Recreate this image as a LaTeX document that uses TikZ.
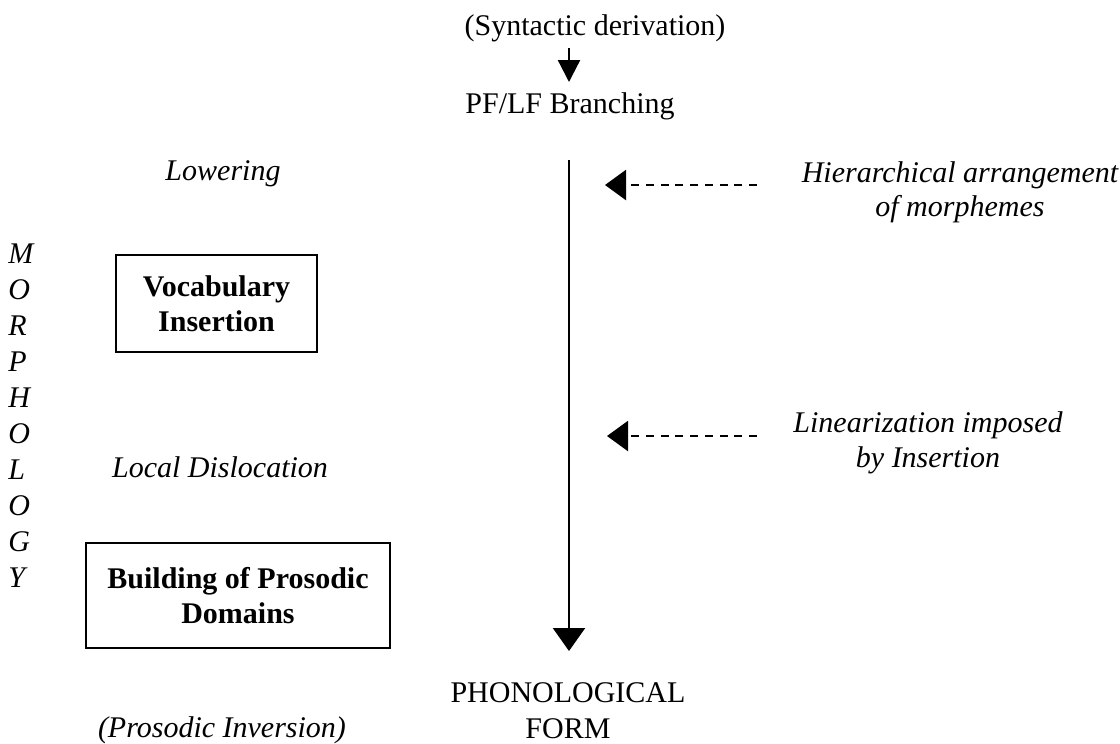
\documentclass[tikz,border=0pt]{standalone}
\usepackage{fontspec}
\setmainfont{Liberation Serif}
\usetikzlibrary{arrows.meta}
\begin{document}
\begin{tikzpicture}[x=0.4pt,y=-0.4pt,
  txt/.style={inner sep=0pt, align=center, font=\fontsize{12}{14.4}\selectfont},
  it/.style={inner sep=0pt, align=center, font=\fontsize{12}{14}\selectfont\itshape},
  box/.style={draw, line width=0.8pt, inner sep=0pt, align=center, font=\fontsize{12}{14}\selectfont\bfseries},
  solidarrow/.style={line width=0.9pt},
  dasharrow/.style={line width=0.9pt, dash pattern=on 3.2pt off 2.7pt, -{Triangle[width=12pt,length=8.4pt]}}]
\useasboundingbox (0,0) rectangle (1120,743);

% centre column
\node[txt, anchor=base] (deriv) at (595,35) {(Syntactic derivation)};
\node[txt, anchor=base] (branch) at (570,113) {PF/LF Branching};
\node[txt, anchor=base] (pf) at (568,738) {PHONOLOGICAL\\FORM};

% vertical label (anchor = baseline of last line)
\node[it, anchor=base west, align=left, font=\fontsize{12}{14.4}\selectfont\itshape] (morph) at (8,587) {M\\O\\R\\P\\H\\O\\L\\O\\G\\Y};

% left column
\node[it, anchor=base] (lower) at (223,180) {Lowering};
\node[it, anchor=base] (ld) at (220,477) {Local Dislocation};
\node[it, anchor=base] (pi) at (222,737) {(Prosodic Inversion)};
\node[box, minimum width=80.4pt, minimum height=38.8pt] (vi) at (216.5,303.5) {Vocabulary\\Insertion};
\node[box, minimum width=121.6pt, minimum height=42pt] (bpd) at (238,595.5) {Building of Prosodic\\Domains};

% right column (anchor = baseline of last line)
\node[it, anchor=base, font=\fontsize{12}{13.6}\selectfont\itshape] (hier) at (960,216) {Hierarchical arrangement\\of morphemes};
\node[it, anchor=base] (lin) at (928,467) {Linearization imposed\\by Insertion};

% connectors
\coordinate (s1) at (569,48);
\coordinate (e1) at (569,82);
\draw[solidarrow, -{Triangle[width=8.8pt,length=8.8pt]}] (s1) -- (e1);

\coordinate (mt) at (569,160);
\coordinate (mb) at (569,651);
\draw[solidarrow, -{Triangle[width=12.8pt,length=9.2pt]}] (mt) -- (mb);

\coordinate (d1s) at (757,185);
\coordinate (d1e) at (605,185);
\draw[dasharrow] (d1s) -- (d1e);

\coordinate (d2s) at (757,436);
\coordinate (d2e) at (607,436);
\draw[dasharrow] (d2s) -- (d2e);
\end{tikzpicture}
\end{document}
